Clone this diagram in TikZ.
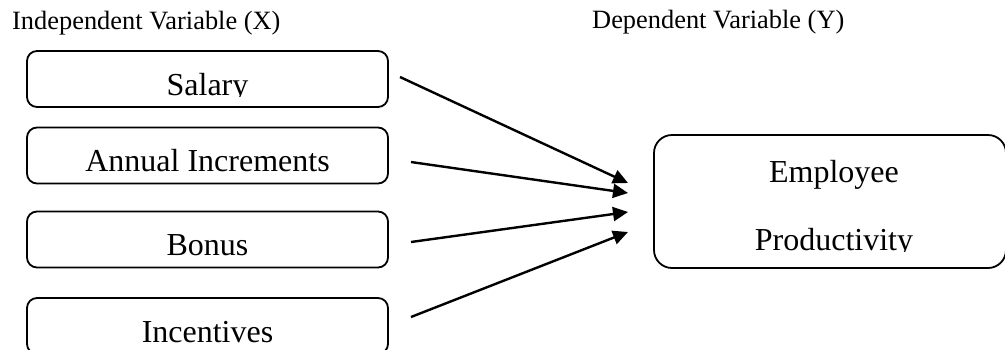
\documentclass[tikz,border=0pt]{standalone}
\usepackage{fontspec}
\setmainfont{Liberation Serif}
\usetikzlibrary{arrows.meta}
\begin{document}
\begin{tikzpicture}[x=1pt,y=-1pt,
  box/.style={draw, line width=1.8pt, rounded corners=10pt, inner sep=0pt, minimum width=361pt, minimum height=56pt},
  bigbox/.style={draw, line width=1.8pt, rounded corners=18pt, inner sep=0pt, minimum width=352pt, minimum height=133pt},
  lbl/.style={font=\fontsize{32}{38}\selectfont, inner sep=0pt, anchor=base},
  ttl/.style={font=\fontsize{26.4}{31}\selectfont, inner sep=0pt, anchor=base west},
  arr/.style={line width=2.4pt, -{Triangle[length=15pt,width=14pt]}}]
\clip (0,0) rectangle (1005,349);
% titles
\node[ttl] (tx) at (12,29) {Independent Variable (X)};
\node[ttl] (ty) at (592,28) {Dependent Variable (Y)};
% boxes
\node[box] (salary) at (207.5,79) {};
\node[box] (annual) at (207.5,155.5) {};
\node[box] (bonus) at (207.5,239.5) {};
\node[box] (incent) at (207.5,326) {};
\node[bigbox] (emp) at (830,201.5) {};
% labels
\begin{scope}
\clip (0,0) rectangle (1005,96);
\node[lbl] (salaryT) at (207.5,95) {Salary};
\end{scope}
\node[lbl] (annualT) at (207.5,171) {Annual Increments};
\node[lbl] (bonusT) at (207.5,255) {Bonus};
\node[lbl] (incentT) at (207.5,342) {Incentives};
\node[lbl] (empT1) at (834,182) {Employee};
\begin{scope}
\clip (0,0) rectangle (1005,251);
\node[lbl] (empT2) at (834,250) {Productivity};
\end{scope}
% arrow end points
\coordinate (s1) at (400,77);
\coordinate (s2) at (411,162);
\coordinate (s3) at (411,242);
\coordinate (s4) at (411,317);
\coordinate (e1) at (628,183);
\coordinate (e2) at (628,193);
\coordinate (e3) at (628,212);
\coordinate (e4) at (628,232);
\draw[arr] (s1) -- (e1);
\draw[arr] (s2) -- (e2);
\draw[arr] (s3) -- (e3);
\draw[arr] (s4) -- (e4);
\end{tikzpicture}
\end{document}
